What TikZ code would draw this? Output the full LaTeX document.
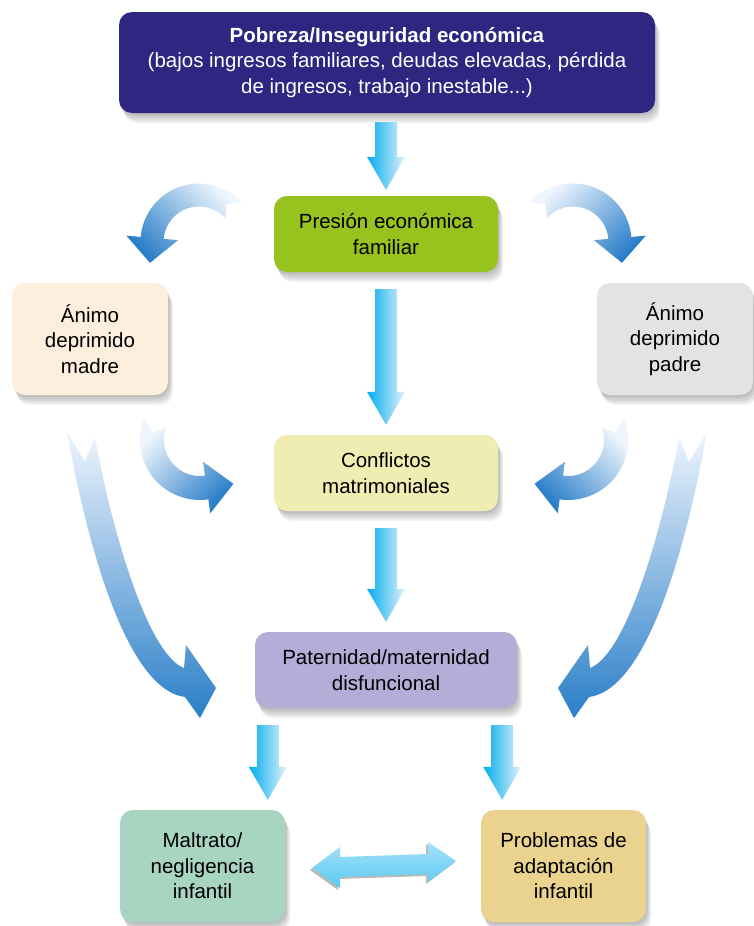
\documentclass[tikz,border=0pt]{standalone}
\usepackage{fontspec}
\setmainfont{Liberation Sans}
\usetikzlibrary{calc}
\definecolor{topblue}{RGB}{47,38,130}
\definecolor{presgreen}{RGB}{152,194,30}
\definecolor{madrec}{RGB}{253,238,222}
\definecolor{padrec}{RGB}{227,227,227}
\definecolor{conflc}{RGB}{239,237,178}
\definecolor{patc}{RGB}{181,173,216}
\definecolor{maltc}{RGB}{167,213,194}
\definecolor{probc}{RGB}{233,211,142}
\definecolor{cyanA}{RGB}{0,172,236}
\definecolor{cyanL}{RGB}{225,242,252}
\definecolor{curveD}{RGB}{42,126,200}
\definecolor{curveL}{RGB}{238,245,253}
\tikzset{
 shl/.style n args={2}{preaction={fill=black, fill opacity=0.055, transform canvas={xshift=#1pt,yshift=-#2pt}}},
 box/.style={rounded corners=13pt, align=center, inner sep=0pt,
   font=\fontsize{20.5}{25.5}\selectfont,
   shl={1}{2}, shl={2}{4}, shl={3}{6}, shl={4}{8}, shl={5}{10}},
 straw/.style={left color=cyanA, right color=cyanL},
 curv/.style={top color=curveL, bottom color=curveD, shading angle=#1},
 dbl/.style={top color=cyanA!35!white, middle color=cyanA, bottom color=cyanA!65!white},
}
\newcommand\vArr[2]{%
 \path[straw] ($(#1)+(-11,0)$) -- ($(#1)+(11,0)$) -- ($(#2)+(11,-33)$) -- ($(#2)+(19,-33)$)
   -- (#2) -- ($(#2)+(-19,-33)$) -- ($(#2)+(-11,-33)$) -- cycle;}
\newcommand\arcArr[9]{%
 \pgfmathsetmacro\sg{(#5>#4) ? 1 : -1}%
 \path[curv=#9] plot[smooth,domain=#4:#5,samples=25] ({#1+(#3+#6)*cos(\x)},{#2+(#3+#6)*sin(\x)})
   -- ({#1+(#3+#7)*cos(#5)},{#2+(#3+#7)*sin(#5)})
   -- ({#1+#3*cos(#5)-\sg*#8*sin(#5)},{#2+#3*sin(#5)+\sg*#8*cos(#5)})
   -- ({#1+(#3-#7)*cos(#5)},{#2+(#3-#7)*sin(#5)})
   -- plot[smooth,domain=#5:#4,samples=25] ({#1+(#3-#6)*cos(\x)},{#2+(#3-#6)*sin(\x)})
   -- ({#1+#3*cos(#4+\sg*11)},{#2+#3*sin(#4+\sg*11)})
   -- cycle;}
\begin{document}
\begin{tikzpicture}[x=1pt,y=-1pt]
\useasboundingbox[fill=white] (0,0) rectangle (753,926);
% nodes
\node[box, fill=topblue, text=white, minimum width=536pt, minimum height=101pt] (top) at (387,62.5)
  {\textbf{Pobreza/Inseguridad económica}\\(bajos ingresos familiares, deudas elevadas, pérdida\\de ingresos, trabajo inestable...)};
\node[box, fill=presgreen, minimum width=224pt, minimum height=76pt] (pres) at (386,234) {Presión económica\\familiar};
\node[box, fill=madrec, minimum width=156pt, minimum height=112pt] (madre) at (90,339) {Ánimo\\deprimido\\madre};
\node[box, fill=padrec, minimum width=156pt, minimum height=112pt] (padre) at (675,339) {Ánimo\\deprimido\\padre};
\node[box, fill=conflc, minimum width=224pt, minimum height=76pt] (confl) at (386,473) {Conflictos\\matrimoniales};
\node[box, fill=patc, minimum width=262pt, minimum height=76pt] (pat) at (386,670) {Paternidad/maternidad\\disfuncional};
\node[box, fill=maltc, minimum width=165pt, minimum height=112pt] (malt) at (202.5,866) {Maltrato/\\negligencia\\infantil};
\node[box, fill=probc, minimum width=165pt, minimum height=112pt] (prob) at (563.5,866) {Problemas de\\adaptación\\infantil};
% straight arrows
\coordinate (s1) at ($(pres.north |- top.south)+(0,9)$);
\coordinate (e1) at ($(pres.north)+(0,-6)$);
\coordinate (s2) at ($(pres.south)+(0,17)$);
\coordinate (e2) at ($(confl.north)+(0,-10)$);
\coordinate (s3) at ($(confl.south)+(0,17)$);
\coordinate (e3) at ($(pat.north)+(0,-10)$);
\coordinate (s4) at ($(pat.south west)+(13,17)$);
\coordinate (e4) at ($(s4 |- malt.north)+(0,-10)$);
\coordinate (s5) at ($(pat.south east)+(-15,17)$);
\coordinate (e5) at ($(s5 |- prob.north)+(0,-10)$);
\vArr{s1}{e1}
\vArr{s2}{e2}
\vArr{s3}{e3}
\vArr{s4}{e4}
\vArr{s5}{e5}
% curved arrows
\arcArr{199}{242}{47}{-43}{-175}{11.5}{26}{25}{-45}
\arcArr{573}{242}{47}{223}{355}{11.5}{26}{25}{45}
\arcArr{200}{440}{48}{200}{82}{12}{26}{27}{45}
\arcArr{568}{440}{48}{-20}{98}{12}{26}{27}{-45}
% long arrows
\path[curv=0] (67,432) .. controls (90,560) and (130,690) .. (185,697) -- (200,718) -- (216,688) -- (186,645)
  -- (184,668) .. controls (150,655) and (115,545) .. (95,438) -- (85,462) -- cycle;
\path[curv=0] (707,432) .. controls (684,560) and (644,690) .. (589,697) -- (574,718) -- (558,688) -- (588,645)
  -- (590,668) .. controls (624,655) and (659,545) .. (679,438) -- (689,462) -- cycle;
% double arrow
\fill[gray!55] (310,870) -- (338,849) -- (338,859) -- (426,856) -- (426,844) -- (454,863) -- (426,884) -- (426,876) -- (338,879) -- (338,890) -- cycle;
\path[dbl] (312,868) -- (340,847) -- (340,857) -- (428,854) -- (428,842) -- (456,861) -- (428,882) -- (428,874) -- (340,877) -- (340,888) -- cycle;
\end{tikzpicture}
\end{document}
